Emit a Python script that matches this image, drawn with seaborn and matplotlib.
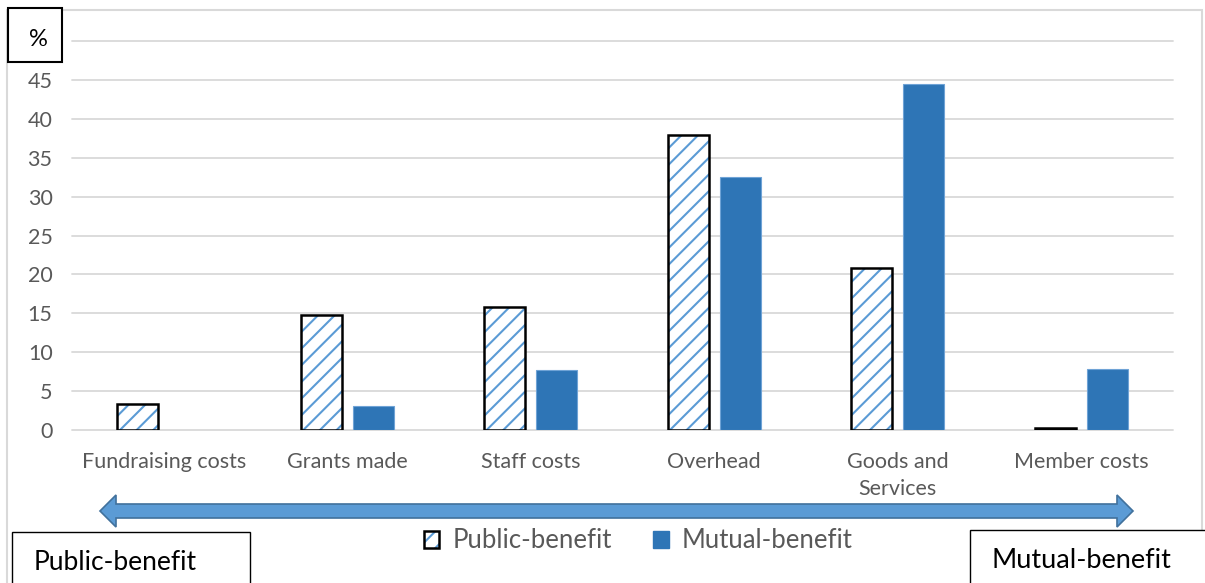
import matplotlib
matplotlib.use("Agg")
import numpy as np
import pandas as pd
import seaborn as sns
import matplotlib.pyplot as plt
from matplotlib.patches import Rectangle, Polygon, Patch
from matplotlib.legend_handler import HandlerTuple

# ---------------- data ----------------
categories = ["Fundraising costs", "Grants made", "Staff costs", "Overhead",
              "Goods and\nServices", "Member costs"]
public_benefit = [3.4, 14.8, 15.8, 37.9, 20.8, 0.25]
mutual_benefit = [0.0, 3.1, 7.7, 32.5, 44.5, 7.8]
series_names = ["Public-benefit", "Mutual-benefit"]
y_ticks = [0, 5, 10, 15, 20, 25, 30, 35, 40, 45, 50]
y_tick_labels = ["0", "5", "10", "15", "20", "25", "30", "35", "40", "45", ""]
y_unit = "%"
left_label = "Public-benefit"
right_label = "Mutual-benefit"

# ---------------- style ----------------
W, H = 1205, 583
sns.set_theme(style="white")
plt.rcParams["font.family"] = ["Lato", "DejaVu Sans"]
plt.rcParams["hatch.linewidth"] = 1.5

GRAY_TXT = "#595959"
GRID = "#D9D9D9"
BLUE = "#2E75B6"
HATCH_BLUE = "#5B9BD5"


def px(x, y):
    return (x / W, 1 - y / H)


df = pd.DataFrame({
    "category": categories * 2,
    "series": [series_names[0]] * len(categories) + [series_names[1]] * len(categories),
    "value": public_benefit + mutual_benefit,
})

fig = plt.figure(figsize=(W / 100, H / 100), dpi=100)
fig.patch.set_facecolor("white")

# outer light frame
fig.add_artist(Rectangle(px(7, 600), (1202 - 7) / W, (600 - 10) / H,
                         transform=fig.transFigure, fill=False,
                         edgecolor=GRID, lw=1.5, zorder=0))

ax = fig.add_axes([72 / W, (H - 430) / H, 1101 / W, 389 / H])
sns.barplot(data=df, x="category", y="value", hue="series",
            hue_order=series_names, order=categories,
            palette={series_names[0]: "white", series_names[1]: BLUE},
            width=0.567, gap=0.21, saturation=1, legend=False, ax=ax)

# public-benefit: hatched with black outline
for p in ax.containers[0]:
    p.set_facecolor("white")
    p.set_edgecolor(HATCH_BLUE)
    p.set_linewidth(0)
    p.set_hatch("//")
    ax.add_patch(Rectangle(p.get_xy(), p.get_width(), p.get_height(),
                           fill=False, edgecolor="black", lw=1.8,
                           zorder=p.get_zorder() + 0.1))
for p in ax.containers[1]:
    p.set_edgecolor("#6FA3D6")
    p.set_linewidth(0.8 if p.get_height() > 0 else 0)

ax.set_xlim(-0.5, len(categories) - 0.5)
ax.set_ylim(0, 50)
ax.set_yticks(y_ticks)
ax.set_yticklabels(y_tick_labels)
ax.set_xlabel("")
ax.set_ylabel("")
for s in ax.spines.values():
    s.set_visible(False)
ax.grid(axis="y", color=GRID, lw=1.3)
ax.set_axisbelow(True)
for gl in ax.get_ygridlines():
    gl.set_clip_on(False)
ax.tick_params(axis="both", length=0, labelcolor=GRAY_TXT, labelsize=15.5)
ax.tick_params(axis="x", pad=16)
ax.tick_params(axis="y", pad=14)
for t in ax.get_xticklabels():
    t.set_linespacing(1.45)

# % box
fig.add_artist(Rectangle(px(8, 62), 54 / W, 54 / H, transform=fig.transFigure,
                         facecolor="white", edgecolor="black", lw=1.5, zorder=5))
fig.text(*px(38, 40), y_unit, ha="center", va="center", fontsize=17,
         color="black", zorder=6)

# double-headed block arrow
cy = 511
pts = [(100, cy), (116, cy - 16), (116, cy - 7), (1117, cy - 7), (1117, cy - 16),
       (1133, cy), (1117, cy + 16), (1117, cy + 7), (116, cy + 7), (116, cy + 16)]
fig.add_artist(Polygon([px(x, y) for x, y in pts], closed=True,
                       transform=fig.transFigure, facecolor=HATCH_BLUE,
                       edgecolor="#41719C", lw=1.2, zorder=3))

# legend
h_pub = (Patch(facecolor="white", edgecolor=HATCH_BLUE, hatch="//", lw=0),
         Patch(fill=False, edgecolor="black", lw=1.8))
h_mut = Patch(facecolor=BLUE, edgecolor=BLUE)
fig.legend([h_pub, h_mut], series_names, loc="center",
           bbox_to_anchor=px(638, 541), ncol=2, frameon=False,
           fontsize=18.5, labelcolor=GRAY_TXT, handlelength=0.62,
           handleheight=0.62, handletextpad=0.5, columnspacing=1.6,
           handler_map={tuple: HandlerTuple(ndivide=1)})

# corner boxes
fig.add_artist(Rectangle(px(12, 600), (250 - 12) / W, (600 - 532) / H,
                         transform=fig.transFigure, facecolor="white",
                         edgecolor="black", lw=1.0, zorder=4))
fig.text(*px(34, 562), left_label, ha="left", va="center", fontsize=19,
         color="black", zorder=6)
fig.add_artist(Rectangle(px(970, 600), (1215 - 970) / W, (600 - 530) / H,
                         transform=fig.transFigure, facecolor="white",
                         edgecolor="black", lw=1.0, zorder=4))
fig.text(*px(991, 560), right_label, ha="left", va="center", fontsize=19.5,
         color="black", zorder=6)

fig.savefig("out.png", dpi=100)
